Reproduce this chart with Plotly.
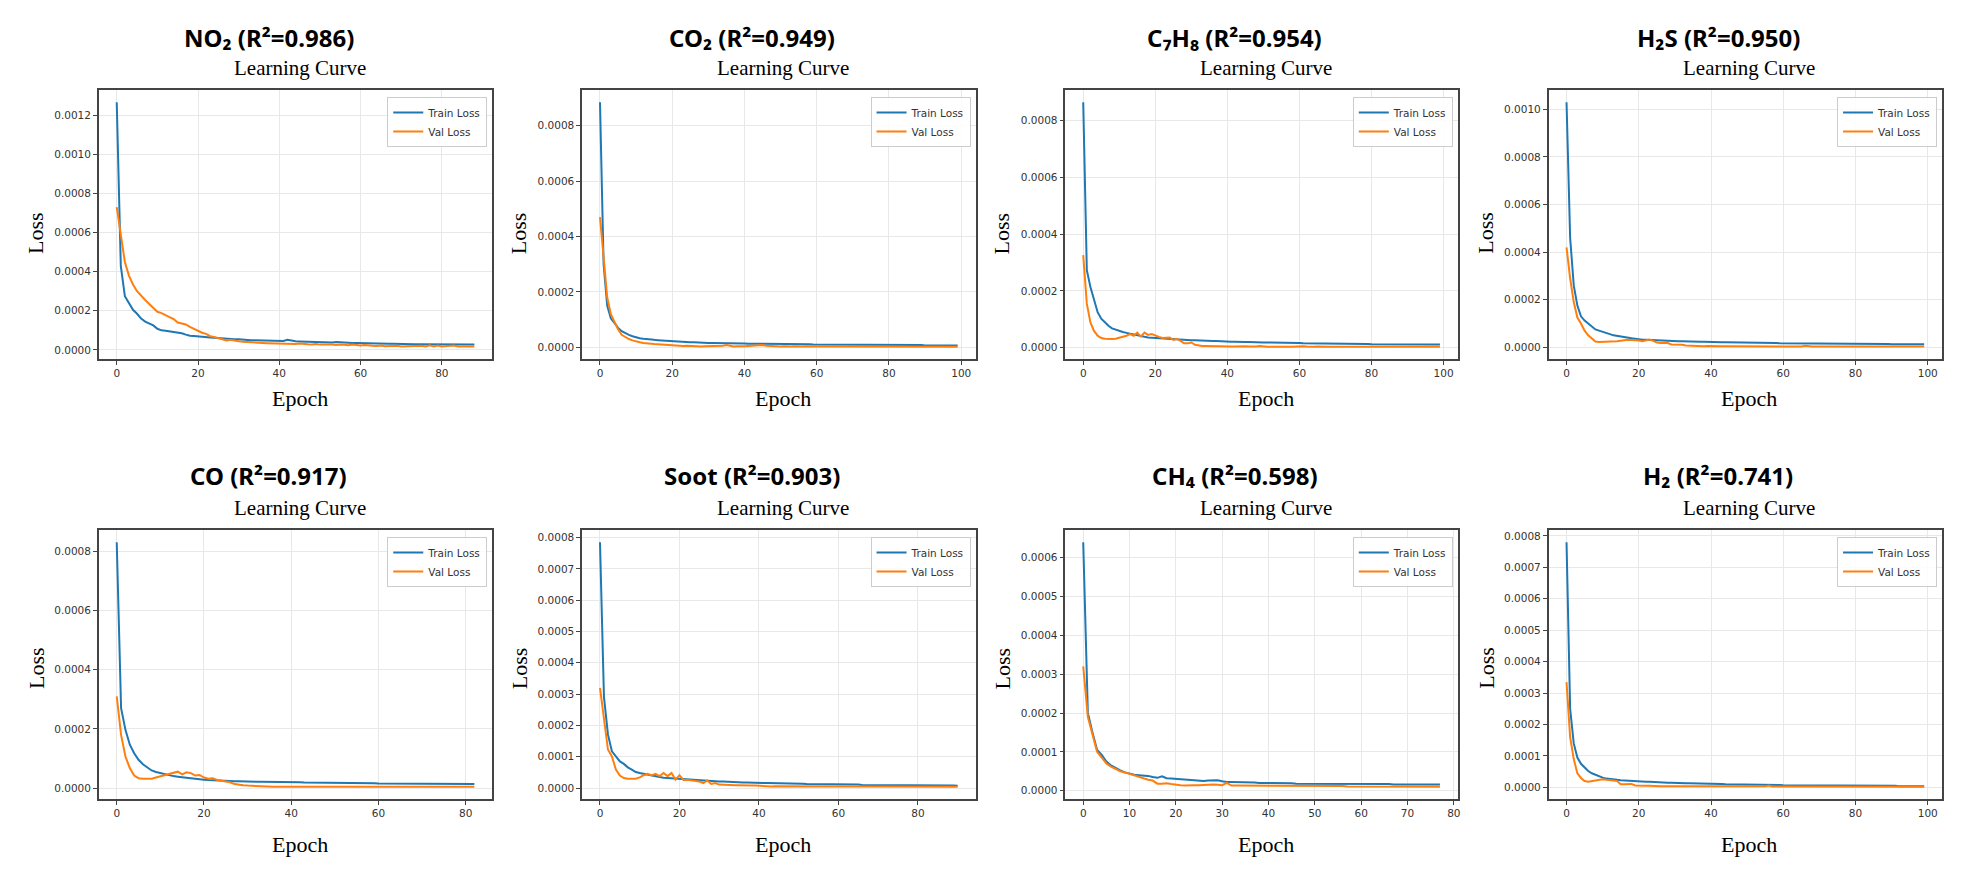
import plotly.graph_objects as go

# ---------------- data (loss values in units of 1e-6) ----------------
UNIT = 1e-6

titles = ["NO₂ (R²=0.986)", "CO₂ (R²=0.949)", "C₇H₈ (R²=0.954)", "H₂S (R²=0.950)",
          "CO (R²=0.917)", "Soot (R²=0.903)", "CH₄ (R²=0.598)", "H₂ (R²=0.741)"]

no2_train = [1267,430,275,240,205,185,160,145,135,125,
             108,100,98,95,90,88,85,78,72,71,
             70,68,66,64,62,60,59,58,56,55,
             54,52,51,50,50,49,48,47,47,46,
             46,46,52,46,44,43,42,42,41,40,
             40,39,39,38,40,38,37,36,35,35,
             34,34,33,33,32,32,32,31,31,30,
             30,30,30,29,29,29,28,29,28,28,
             28,27,28,27,27,27,27,26,27]
no2_val = [730,595,450,380,335,300,275,255,235,215,
           195,188,180,168,158,140,135,130,118,108,
           95,88,82,70,66,60,56,48,52,46,
           44,42,40,38,37,36,35,34,33,33,
           32,32,31,31,30,33,30,29,28,30,
           27,28,26,27,25,28,26,24,27,24,
           23,25,22,21,20,22,19,20,19,21,
           18,19,20,18,19,21,17,23,18,22,
           17,19,18,22,17,18,16,17,17]

co2_train = [885,300,150,105,88,70,58,50,45,40,
             36,33,31,29,28,27,26,25,23,22,
             21,20,20,19,19,18,18,17,17,17,
             16,16,16,15,15,15,15,14,14,14,
             14,13,13,13,13,13,12,12,12,12,
             12,12,11,11,11,11,11,11,11,10,
             10,10,10,10,10,10,10,9,9,9,
             9,9,9,9,9,9,9,8,8,8,
             8,8,8,8,8,8,8,8,8,8,
             7,7,7,7,7,7,7,7,7,7]
co2_val = [470,310,180,120,90,65,45,36,30,25,
           21,18,16,14,13,12,11,10,10,8,
           7,6,6,5,6,5,4,5,3,4,
           4,5,4,5,6,8,5,3,4,3,
           4,5,6,5,7,8,6,5,4,4,
           3,4,3,3,4,3,3,4,3,3,
           3,3,4,3,3,3,3,3,3,3,
           3,3,2,3,3,2,3,3,2,3,
           2,3,2,2,3,2,2,3,2,2,
           2,2,3,2,2,2,2,2,2,2]

c7h8_train = [865,273,214,166,125,102,88,77,68,63,
              59,55,52,49,45,42,40,38,36,35,
              34,33,32,31,30,29,29,28,27,27,
              26,26,25,25,24,24,23,23,22,22,
              21,21,21,20,21,20,20,19,19,19,
              18,18,18,17,17,17,17,16,16,16,
              16,15,15,15,15,15,14,14,14,14,
              14,14,13,13,13,13,13,13,13,13,
              12,12,12,12,12,12,12,12,12,12,
              12,11,11,11,11,11,11,11,11,11]
c7h8_val = [326,155,89,59,42,34,31,30,30,31,
            34,38,42,48,42,53,39,53,45,48,
            42,38,34,34,36,27,31,24,15,15,
            18,10,7,6,6,5,6,5,5,4,
            5,4,4,5,4,5,4,3,4,6,
            4,3,3,4,3,3,4,3,3,4,
            3,5,4,3,3,4,3,3,3,3,
            4,3,3,3,4,3,3,3,3,3,
            3,3,3,3,4,3,3,3,3,3,
            3,3,3,3,3,3,3,3,3,3]

h2s_train = [1030,460,260,175,130,112,100,88,75,70,
             66,60,55,50,47,44,42,40,38,36,
             33,32,31,30,29,28,27,27,26,26,
             25,25,25,24,24,24,23,23,23,22,
             22,22,22,21,21,21,21,21,20,20,
             20,20,19,19,19,19,18,18,18,17,
             17,17,17,17,16,16,16,16,16,16,
             16,15,15,15,15,15,15,15,14,14,
             14,14,14,14,14,14,14,14,14,14,
             13,13,13,13,13,13,13,13,13,13]
h2s_val = [420,290,190,125,100,70,50,35,24,22,
           22,23,23,24,25,27,30,31,30,30,
           28,25,30,32,27,20,18,19,18,12,
           12,11,10,7,6,5,5,5,4,5,
           4,4,5,4,4,4,4,5,4,4,
           3,4,4,3,2,4,3,3,4,3,
           4,3,3,3,2,3,6,3,3,3,
           3,3,2,3,3,3,3,3,3,3,
           3,3,3,3,3,3,3,3,3,3,
           3,3,3,3,3,3,3,3,3,3]

co_train = [830,270,197,147,118,96,81,70,60,55,
            51,47,43,41,39,37,35,33,31,30,
            29,28,27,26,25,25,25,24,24,23,
            23,23,22,22,22,21,21,20,20,20,
            20,20,20,19,19,19,19,19,19,18,
            18,17,18,18,18,18,17,17,17,17,
            16,16,16,16,16,16,16,15,15,15,
            15,14,15,15,15,14,14,14,14,14,
            14,14,14]
co_val = [310,180,107,68,43,34,32,32,32,36,
          40,45,47,51,56,47,54,51,43,45,
          36,32,34,28,25,23,20,14,11,10,
          9,8,8,6,6,5,5,5,5,5,
          5,5,5,5,5,5,5,5,5,5,
          5,6,5,5,7,5,5,5,5,6,
          5,5,5,5,5,5,5,5,5,5,
          5,5,5,5,5,5,5,5,5,5,
          5,5,5]

soot_train = [785,290,171,117,101,85,77,66,59,51,
              48,45,43,40,37,35,33,32,31,30,
              29,28,28,27,26,26,25,24,23,22,
              21,21,20,20,19,19,18,18,17,17,
              16,16,16,16,15,15,15,15,15,14,
              14,14,13,13,13,13,12,12,12,12,
              12,11,11,11,11,11,10,10,10,10,
              10,10,9,9,9,9,9,9,9,8,
              8,8,8,8,8,8,8,8,8,8,
              7]
soot_val = [320,224,123,101,59,40,32,30,30,30,
            34,41,45,40,45,38,48,38,48,27,
            41,26,26,24,21,21,16,24,13,16,
            11,10,10,9,9,9,8,8,8,8,
            7,7,6,5,6,6,6,6,6,6,
            6,6,6,6,6,5,6,6,6,6,
            6,6,6,6,6,6,6,6,5,5,
            5,5,6,6,6,6,6,6,5,5,
            6,5,5,5,5,5,5,5,5,5,
            4]

ch4_train = [640,200,150,105,92,75,65,58,52,47,
             43,41,40,39,38,35,33,37,32,31,
             30,29,28,27,26,25,25,26,27,27,
             24,22,22,22,21,21,21,21,20,20,
             19,19,19,19,19,19,18,18,18,18,
             18,18,18,18,18,18,17,17,17,17,
             17,17,17,17,17,18,17,16,16,16,
             16,16,16,16,16,16,16,16]
ch4_val = [320,190,145,100,85,70,62,55,50,47,
           43,38,35,32,28,26,18,18,19,17,
           15,14,13,14,14,14,15,15,16,15,
           14,20,13,13,13,13,12,12,12,12,
           12,12,12,12,12,12,12,12,12,12,
           12,12,12,12,12,12,12,11,11,11,
           11,11,11,11,11,11,11,11,11,11,
           10,10,10,10,10,10,10,10]

h2_train = [780,250,140,95,75,62,52,45,40,35,
            31,28,26,25,24,23,22,21,20,20,
            19,19,18,18,17,16,16,15,15,15,
            14,14,14,13,13,13,12,12,12,12,
            11,11,11,11,10,10,10,10,10,9,
            9,9,9,9,9,8,8,8,9,8,
            7,7,7,7,7,7,6,6,6,6,
            6,6,6,6,6,6,5,5,5,5,
            5,5,5,5,5,5,5,5,5,5,
            5,5,4,4,4,4,4,4,4,4]
h2_val = [335,160,90,45,30,20,18,20,22,26,
          26,24,24,22,20,10,10,11,11,6,
          5,5,5,5,4,4,4,4,4,5,
          4,3,3,4,3,3,3,4,4,3,
          3,3,3,3,4,3,3,3,3,3,
          3,3,3,3,3,4,6,3,3,3,
          3,3,3,3,3,3,3,3,2,2,
          2,2,2,2,2,2,2,2,2,2,
          2,2,2,2,2,2,2,2,2,2,
          2,2,2,2,2,2,2,2,2,2]

train_series = [no2_train, co2_train, c7h8_train, h2s_train, co_train, soot_train, ch4_train, h2_train]
val_series = [no2_val, co2_val, c7h8_val, h2s_val, co_val, soot_val, ch4_val, h2_val]
y_dticks = [0.0002, 0.0002, 0.0002, 0.0002, 0.0002, 0.0001, 0.0001, 0.0001]
x_dticks = [20, 20, 20, 20, 20, 20, 10, 20]

# ---------------- layout (pixels) ----------------
W, H = 1976, 877
cols = [(99, 493), (583, 977), (1067, 1460), (1551, 1945)]
rows = [(90, 359), (530, 799)]
title_y = [37, 475]
sub_y = [68, 508]
epoch_y = [398, 844]
loss_y = [233, 668]

TRAIN_C = "#1f77b4"
VAL_C = "#ff7f0e"
TICK_FONT = dict(family="DejaVu Sans", size=10.5, color="#333333")

fig = go.Figure()
annotations = []

def px(x):
    return x / W

def py(y):
    return 1 - y / H

for k in range(8):
    r, c = divmod(k, 4)
    x0, x1 = cols[c]
    y0, y1 = rows[r]
    sfx = "" if k == 0 else str(k + 1)
    tr = [v * UNIT for v in train_series[k]]
    va = [v * UNIT for v in val_series[k]]
    epochs = list(range(len(tr)))
    n = len(tr) - 1
    lg = "legend" + sfx
    fig.add_trace(go.Scatter(x=epochs, y=tr, mode="lines", name="Train Loss",
                             line=dict(color=TRAIN_C, width=2),
                             xaxis="x" + sfx, yaxis="y" + sfx, legend=lg))
    fig.add_trace(go.Scatter(x=epochs, y=va, mode="lines", name="Val Loss",
                             line=dict(color=VAL_C, width=2),
                             xaxis="x" + sfx, yaxis="y" + sfx, legend=lg))
    hi = max(max(tr), max(va))
    lo = min(min(tr), min(va))
    span = hi - lo
    axis_common = dict(showline=True, mirror=True, linecolor="#444444", linewidth=1.5,
                       ticks="outside", ticklen=4, tickcolor="#444444",
                       showgrid=True, gridcolor="#e8e8e8", gridwidth=1,
                       zeroline=False, tickfont=TICK_FONT)
    fig.layout["xaxis" + sfx] = dict(domain=[px(x0), px(x1)], anchor="y" + sfx,
                                     range=[-0.05 * n, 1.05 * n], dtick=x_dticks[k],
                                     tick0=0, **axis_common)
    fig.layout["yaxis" + sfx] = dict(domain=[py(y1), py(y0)], anchor="x" + sfx,
                                     range=[lo - 0.05 * span, hi + 0.05 * span],
                                     dtick=y_dticks[k], tick0=0, tickformat=".4f",
                                     **axis_common)
    fig.layout[lg] = dict(x=px(x1 - 5), y=py(y0 + 7), xref="paper", yref="paper",
                          xanchor="right", yanchor="top",
                          bgcolor="rgba(255,255,255,0.85)", bordercolor="#cccccc",
                          borderwidth=1, font=dict(family="DejaVu Sans", size=10.5, color="#333333"),
                          itemwidth=30, tracegroupgap=0)
    cx = (x0 + x1) / 2
    annotations.append(dict(text="<b>" + titles[k] + "</b>", x=px(cx - 27), y=py(title_y[r]),
                            xref="paper", yref="paper", xanchor="center", yanchor="middle",
                            showarrow=False,
                            font=dict(family="Noto Sans, Open Sans", size=24, color="#000000")))
    annotations.append(dict(text="Learning Curve", x=px(cx + 4), y=py(sub_y[r]),
                            xref="paper", yref="paper", xanchor="center", yanchor="middle",
                            showarrow=False,
                            font=dict(family="Liberation Serif", size=21, color="#000000")))
    annotations.append(dict(text="Epoch", x=px(cx + 4), y=py(epoch_y[r]),
                            xref="paper", yref="paper", xanchor="center", yanchor="middle",
                            showarrow=False,
                            font=dict(family="Liberation Serif", size=22, color="#000000")))
    annotations.append(dict(text="Loss", x=px(x0 - 63), y=py(loss_y[r]), textangle=-90,
                            xref="paper", yref="paper", xanchor="center", yanchor="middle",
                            showarrow=False,
                            font=dict(family="Liberation Serif", size=22, color="#000000")))

fig.update_layout(width=W, height=H, margin=dict(l=0, r=0, t=0, b=0),
                  paper_bgcolor="white", plot_bgcolor="white",
                  annotations=annotations, showlegend=True)

fig.write_html("out.html")
